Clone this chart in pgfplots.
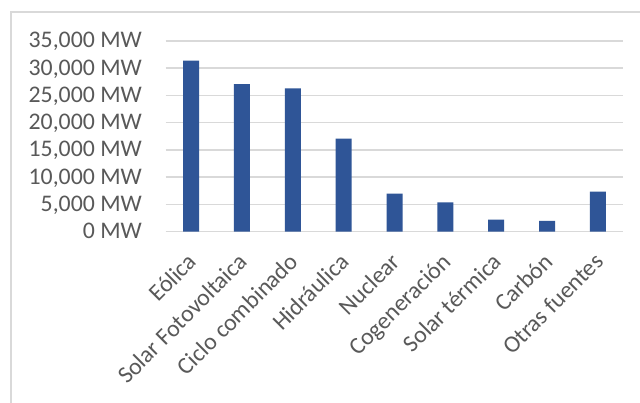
\documentclass[border=0pt]{standalone}
\usepackage{fontspec}
\setmainfont{Carlito}
\usepackage{pgfplots}
\pgfplotsset{compat=1.18}
\definecolor{barblue}{HTML}{2F5597}
\definecolor{gridgray}{HTML}{D9D9D9}
\definecolor{txtgray}{HTML}{595959}
\definecolor{bordergray}{HTML}{D9D9D9}
\begin{document}
\begin{tikzpicture}
\useasboundingbox (0,0) rectangle (640bp,403bp);
\clip (0,0) rectangle (640bp,403bp);
\fill[white] (0,0) rectangle (640bp,403bp);
\draw[bordergray, line width=1.3bp] (11bp,-20bp) -- (11bp,391bp) -- (660bp,391bp);
\begin{axis}[
  at={(165.7bp,171.3bp)}, anchor=south west,
  scale only axis, width=457.6bp, height=190.8bp,
  xmin=-0.5, xmax=8.5, ymin=0, ymax=35000,
  scaled y ticks=false,
  axis line style={draw=none},
  major tick length=0pt,
  ymajorgrids, grid style={gridgray, line width=1.4bp},
  ytick={0,5000,10000,15000,20000,25000,30000,35000},
  yticklabels={{0 MW},{5,000 MW},{10,000 MW},{15,000 MW},{20,000 MW},{25,000 MW},{30,000 MW},{35,000 MW}},
  xtick={0,1,2,3,4,5,6,7,8},
  xticklabels={Eólica,Solar Fotovoltaica,Ciclo combinado,Hidráulica,Nuclear,Cogeneración,Solar térmica,Carbón,Otras fuentes},
  ticklabel style={font=\fontsize{23.8bp}{28bp}\selectfont, text=txtgray, inner sep=0pt},
  yticklabel style={anchor=base east, xshift=-23.7bp, yshift=-7bp},
  xticklabel style={xshift=7bp, yshift=-31.5bp, rotate=45, anchor=base east},
  clip=false,
]
\addplot[ybar, bar width=16bp, fill=barblue, draw=none] coordinates {
  (0,31380) (1,27080) (2,26280) (3,17070) (4,7000) (5,5400) (6,2210) (7,1970) (8,7370)
};
\end{axis}
\end{tikzpicture}
\end{document}
